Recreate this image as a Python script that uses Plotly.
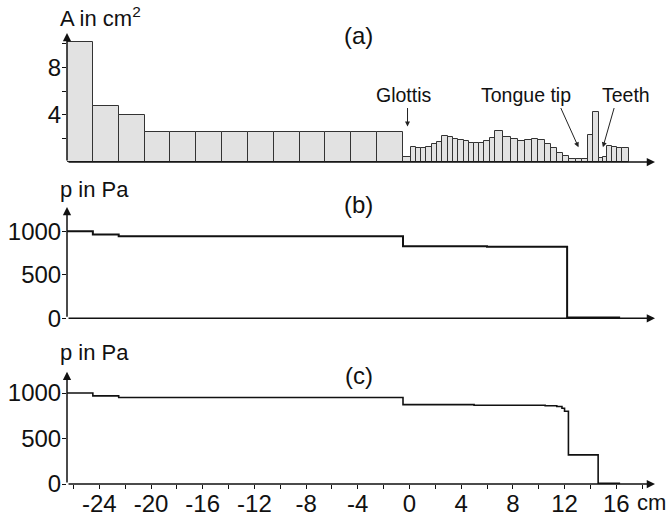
import plotly.graph_objects as go
from plotly.subplots import make_subplots

# ---------------- data ----------------
# (a) area function: section edges along the tract (cm) and areas (cm^2)
trachea_edges = [-26.5, -24.5, -22.5, -20.5, -18.5, -16.5, -14.5, -12.5, -10.5,
                 -8.5, -6.5, -4.5, -2.5, -0.5]
trachea_area = [10.2, 4.75, 4.0, 2.55, 2.55, 2.55, 2.55, 2.55, 2.55, 2.55, 2.55, 2.55, 2.55]

glottis_edges = [-0.5, 0.1]
glottis_area = [0.45]

tract_edges = [0.1, 0.50, 0.88, 1.29, 1.71, 2.12, 2.53, 2.95, 3.36, 3.78, 4.19, 4.60,
               5.02, 5.38, 5.79, 6.21, 6.62, 7.26, 7.86, 8.43, 8.95, 9.47, 9.98, 10.50,
               10.98, 11.45, 11.91, 12.36, 12.86, 13.36, 13.85, 14.24, 14.63, 14.94,
               15.28, 15.67, 16.05, 16.44, 16.95]
tract_area = [1.25, 1.17, 1.17, 1.3, 1.52, 1.72, 2.2, 2.15, 1.95, 1.87, 1.8, 1.58,
              1.58, 1.58, 1.77, 2.05, 2.6, 2.1, 1.92, 1.8, 1.87, 1.92, 1.83, 1.5,
              1.2, 0.8, 0.5, 0.22, 0.22, 0.22, 2.25, 4.25, 0.3, 0.45, 1.33, 1.25,
              1.22, 1.22]

# (b) pressure distribution (step positions in cm, pressure in Pa)
pb_x = [-26.5, -24.5, -22.5, -0.5, 6.0, 12.2, 16.3]
pb_p = [1000, 965, 945, 828, 822, 8, 8]

# (c) pressure distribution
pc_x = [-26.5, -24.5, -22.5, -0.5, 5.0, 10.5, 11.4, 11.8, 12.0, 12.3, 14.6, 16.3]
pc_p = [1000, 968, 950, 872, 866, 860, 852, 832, 800, 320, 8, 8]

a_ticks = [2, 4, 6, 8, 10]
a_ticktext = ["", "4", "", "8", ""]
p_ticks = [0, 500, 1000]
x_ticks = [-26, -24, -22, -20, -18, -16, -14, -12, -10, -8, -6, -4, -2, 0, 2, 4, 6, 8,
           10, 12, 14, 16, 18]
x_ticktext = ["", "-24", "", "-20", "", "-16", "", "-12", "", "-8", "", "-4", "", "0",
              "", "4", "", "8", "", "12", "", "16", ""]

# ---------------- build ----------------
W, H = 671, 518
FONT = "Liberation Sans, Arial, sans-serif"
XMIN, XMAX = -26.5, 19.0
TICKSIZE = 24


def px(x):
    return x / W


def py(y):
    return 1 - y / H


edges_all = [trachea_edges, glottis_edges, tract_edges]
areas_all = [trachea_area, glottis_area, tract_area]
centers, widths, areas = [], [], []
for e, a in zip(edges_all, areas_all):
    for i in range(len(a)):
        centers.append((e[i] + e[i + 1]) / 2)
        widths.append(e[i + 1] - e[i])
        areas.append(a[i])

fig = make_subplots(rows=3, cols=1, shared_xaxes=False)

fig.add_trace(go.Bar(x=centers, y=areas, width=widths,
                     marker=dict(color="#e2e2e2", line=dict(color="#333333", width=1)),
                     showlegend=False), row=1, col=1)
fig.add_trace(go.Scatter(x=pb_x, y=pb_p, mode="lines", line_shape="hv",
                         line=dict(color="#111", width=2), showlegend=False), row=2, col=1)
fig.add_trace(go.Scatter(x=pc_x, y=pc_p, mode="lines", line_shape="hv",
                         line=dict(color="#111", width=1.6), showlegend=False), row=3, col=1)

xdom = [px(67), px(655)]
doms = [[py(162), py(33)], [py(318.3), py(207)], [py(484), py(371.7)]]
yranges = [[0, 10.93], [0, 1280], [0, 1234]]

common_x = dict(range=[XMIN, XMAX], domain=xdom, showgrid=False, zeroline=False,
                showline=False, fixedrange=True, automargin=False)
fig.update_layout(
    xaxis=dict(**common_x, showticklabels=False, ticks=""),
    xaxis2=dict(**common_x, showticklabels=False, ticks=""),
    xaxis3=dict(**common_x, tickmode="array", tickvals=x_ticks, ticktext=x_ticktext,
                ticks="outside", ticklen=4, tickwidth=1.2, tickcolor="#111",
                ticklabelstandoff=-6,
                tickfont=dict(family=FONT, size=TICKSIZE, color="#111")),
    yaxis=dict(domain=doms[0], range=yranges[0], tickmode="array", tickvals=a_ticks,
               ticktext=a_ticktext),
    yaxis2=dict(domain=doms[1], range=yranges[1], tickmode="array", tickvals=p_ticks),
    yaxis3=dict(domain=doms[2], range=yranges[2], tickmode="array", tickvals=p_ticks),
)
for ya in ["yaxis", "yaxis2", "yaxis3"]:
    fig.layout[ya].update(showgrid=False, zeroline=False, showline=False, ticks="outside",
                          ticklen=4, tickwidth=1.2, tickcolor="#111", fixedrange=True,
                          automargin=False, ticklabelstandoff=-4,
                          tickfont=dict(family=FONT, size=TICKSIZE, color="#111"))

anns = []
# axis arrows
for i, (xr, yr) in enumerate([("x", "y"), ("x2", "y2"), ("x3", "y3")]):
    top = yranges[i][1]
    anns.append(dict(x=XMAX, y=0, ax=XMIN, ay=0, xref=xr, yref=yr, axref=xr, ayref=yr,
                     text="", showarrow=True, arrowhead=2, arrowsize=1.1, arrowwidth=1.5,
                     arrowcolor="#111"))
    anns.append(dict(x=XMIN, y=top, ax=XMIN, ay=0, xref=xr, yref=yr, axref=xr, ayref=yr,
                     text="", showarrow=True, arrowhead=2, arrowsize=1.1, arrowwidth=1.5,
                     arrowcolor="#111"))

# pointer arrows in (a)
for hx, hy, tx, ty in [(-0.15, 3.0, -0.15, 4.7), (13.08, 1.25, 11.66, 4.7),
                       (14.97, 1.25, 15.87, 4.7)]:
    anns.append(dict(x=hx, y=hy, ax=tx, ay=ty, xref="x", yref="y", axref="x", ayref="y",
                     text="", showarrow=True, arrowhead=2, arrowsize=1, arrowwidth=1,
                     arrowcolor="#222"))


def label(txt, cx, cy, size):
    anns.append(dict(x=px(cx), y=py(cy), xref="paper", yref="paper", text=txt,
                     showarrow=False, xanchor="center", yanchor="middle",
                     font=dict(family=FONT, size=size, color="#111")))


label("A in cm<sup>2</sup>", 100, 17, 22)
label("(a)", 358, 36, 24)
label("Glottis", 404, 95, 19.5)
label("Tongue tip", 526, 95, 19.5)
label("Teeth", 625.5, 95, 19.5)
label("p in Pa", 94, 189, 22)
label("(b)", 358, 204, 24)
label("p in Pa", 94, 352, 22)
label("(c)", 359, 375, 24)
label("cm", 651, 502, 22)

fig.update_layout(annotations=anns, width=W, height=H,
                  margin=dict(l=0, r=0, t=0, b=0), paper_bgcolor="white",
                  plot_bgcolor="white", barmode="overlay", bargap=0)

fig.write_html("out.html", config={"displayModeBar": False},
               post_script="document.body.style.margin='0px';"
                           "document.body.style.overflow='hidden';")
